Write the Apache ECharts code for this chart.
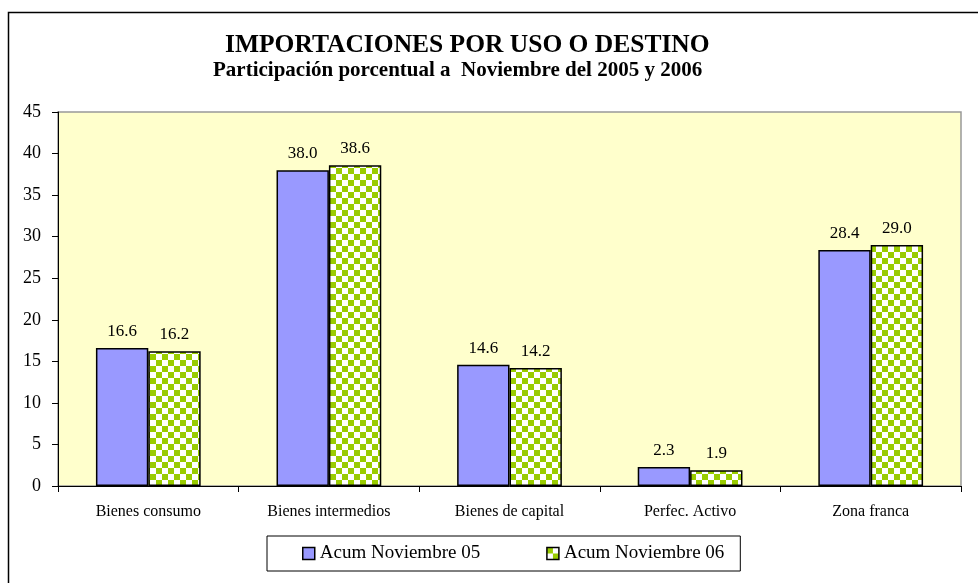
<!DOCTYPE html>
<html>
<head>
<meta charset="utf-8">
<script src="https://cdn.jsdelivr.net/npm/echarts@6/dist/echarts.min.js"></script>
<style>
  html, body { margin: 0; padding: 0; background: #fff; }
  #chart { width: 978px; height: 583px; }
</style>
</head>
<body>
<div id="chart"></div>
<script>
const categories = ['Bienes consumo', 'Bienes intermedios', 'Bienes de capital', 'Perfec. Activo', 'Zona franca']
const acum05 = [16.6, 38.0, 14.6, 2.3, 28.4]
const acum06 = [16.2, 38.6, 14.2, 1.9, 29.0]
const seriesNames = ['Acum Noviembre 05', 'Acum Noviembre 06']

// patrón de cuadros verde / blanco
const makeChecker = () => {
  const c = document.createElement('canvas')
  c.width = 12
  c.height = 12
  const ctx = c.getContext('2d')
  ctx.fillStyle = '#ffffff'
  ctx.fillRect(0, 0, 12, 12)
  ctx.fillStyle = '#99cc00'
  ctx.fillRect(0, 0, 6, 6)
  ctx.fillRect(6, 6, 6, 6)
  return c
}

const serif = '"Liberation Serif", "DejaVu Serif", serif'
const chart = echarts.init(document.getElementById('chart'))

const labelStyle = {
  show: true,
  position: 'top',
  distance: 8,
  fontFamily: serif,
  fontSize: 17,
  color: '#000',
  formatter: p => p.value.toFixed(1)
}

chart.setOption({
  animation: false,
  title: [
    {
      text: 'IMPORTACIONES POR USO O DESTINO',
      left: 225,
      top: 32,
      padding: 0,
      textStyle: { fontFamily: serif, fontSize: 25.5, fontWeight: 'bold', color: '#000' }
    },
    {
      text: 'Participación porcentual a  Noviembre del 2005 y 2006',
      left: 213,
      top: 60,
      padding: 0,
      textStyle: { fontFamily: serif, fontSize: 21, fontWeight: 'bold', color: '#000' }
    }
  ],
  graphic: [{
    type: 'rect',
    shape: { x: 8.5, y: 12.5, width: 1000, height: 1000 },
    style: { fill: 'none', stroke: '#000', lineWidth: 1.5 },
    silent: true
  }],
  grid: {
    left: 58,
    right: 17,
    top: 112,
    bottom: 97,
    show: true,
    backgroundColor: '#ffffcc',
    borderColor: '#999',
    borderWidth: 1.5
  },
  legend: {
    data: seriesNames,
    left: 267,
    top: 536,
    padding: [8, 16, 8, 35],
    itemGap: 66,
    icon: 'rect',
    itemWidth: 12,
    itemHeight: 12,
    itemStyle: { borderColor: '#000', borderWidth: 1.5 },
    backgroundColor: '#fff',
    borderColor: '#000',
    borderWidth: 1,
    textStyle: { fontFamily: serif, fontSize: 19, color: '#000' }
  },
  xAxis: {
    type: 'category',
    data: categories,
    axisLine: { lineStyle: { color: '#000', width: 1 } },
    axisTick: { show: true, length: 6, lineStyle: { color: '#000' } },
    axisLabel: { fontFamily: serif, fontSize: 16, color: '#000', margin: 18 }
  },
  yAxis: {
    type: 'value',
    min: 0,
    max: 45,
    interval: 5,
    splitLine: { show: false },
    axisLine: { show: true, lineStyle: { color: '#000', width: 1 } },
    axisTick: { show: true, length: 6, lineStyle: { color: '#000' } },
    axisLabel: { fontFamily: serif, fontSize: 18, color: '#000', margin: 17 }
  },
  series: [
    {
      name: seriesNames[0],
      type: 'bar',
      data: acum05,
      barGap: '0%',
      barCategoryGap: '42%',
      itemStyle: { color: '#9999ff', borderColor: '#000', borderWidth: 1.5 },
      label: labelStyle
    },
    {
      name: seriesNames[1],
      type: 'bar',
      data: acum06,
      itemStyle: {
        color: { image: makeChecker(), repeat: 'repeat' },
        borderColor: '#000',
        borderWidth: 1.5
      },
      label: labelStyle
    }
  ]
})
</script>
</body>
</html>
